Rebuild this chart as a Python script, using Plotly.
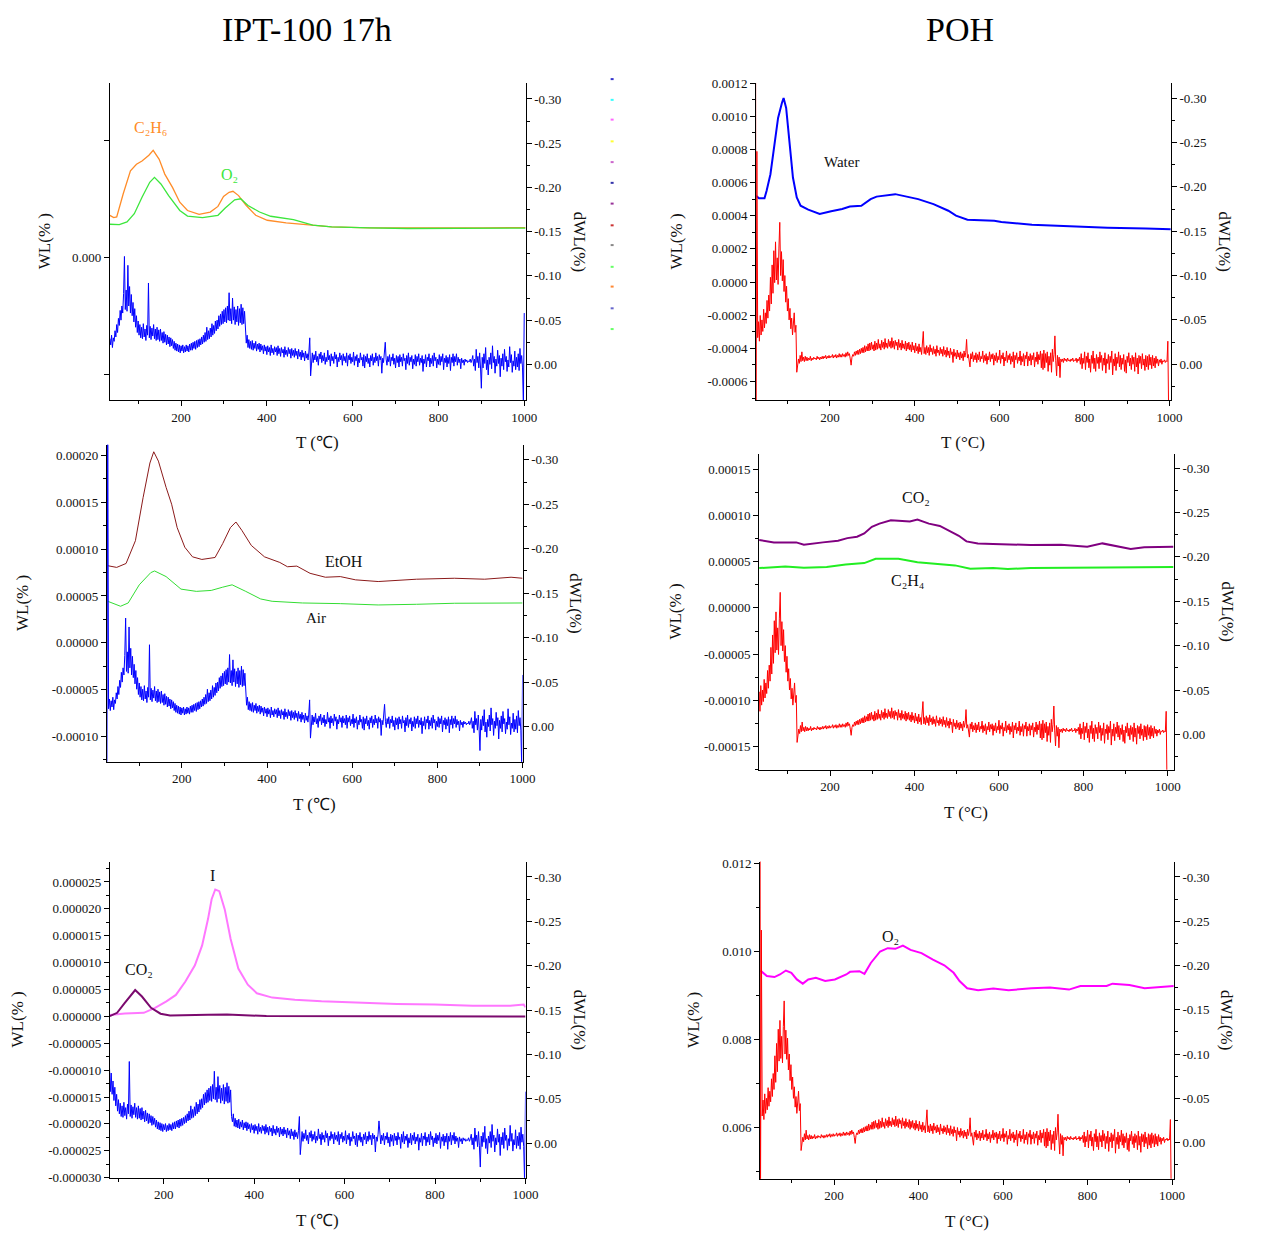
import plotly.graph_objects as go

W, H = 1262, 1243
SERIF = "Liberation Serif, Times New Roman, serif"

# ---------------- DATA ----------------
T_IPT = list(range(24, 1001, 2))
DTG_IPT = [
    # 24
    0.050, -0.340, -0.020, -0.031, -0.018, -0.029, -0.022, -0.033, -0.019, -0.030,
    -0.026, -0.038, -0.031, -0.045, -0.036, -0.052, -0.044, -0.061, -0.050, -0.066,
    # 64
    -0.058, -0.080, -0.122, -0.062, -0.084, -0.060, -0.112, -0.066, -0.088, -0.058,
    -0.079, -0.055, -0.070, -0.048, -0.063, -0.042, -0.055, -0.036, -0.049, -0.033,
    # 104
    -0.045, -0.030, -0.042, -0.029, -0.046, -0.031, -0.040, -0.027, -0.044, -0.033,
    -0.092, -0.030, -0.043, -0.028, -0.041, -0.032, -0.045, -0.029, -0.040, -0.027,
    # 144
    -0.042, -0.028, -0.039, -0.026, -0.040, -0.027, -0.036, -0.024, -0.037, -0.025,
    -0.034, -0.022, -0.033, -0.023, -0.031, -0.020, -0.030, -0.021, -0.028, -0.018,
    # 184
    -0.026, -0.016, -0.024, -0.015, -0.023, -0.014, -0.022, -0.013, -0.021, -0.015,
    -0.022, -0.013, -0.020, -0.014, -0.022, -0.015, -0.021, -0.014, -0.023, -0.016,
    # 224
    -0.024, -0.016, -0.025, -0.018, -0.026, -0.017, -0.027, -0.019, -0.028, -0.020,
    -0.029, -0.022, -0.031, -0.023, -0.033, -0.025, -0.036, -0.026, -0.042, -0.028,
    # 264
    -0.038, -0.029, -0.041, -0.031, -0.046, -0.033, -0.044, -0.035, -0.049, -0.038,
    -0.050, -0.040, -0.055, -0.043, -0.057, -0.045, -0.060, -0.046, -0.062, -0.048,
    # 304
    -0.064, -0.047, -0.066, -0.050, -0.081, -0.049, -0.063, -0.046, -0.075, -0.050,
    -0.065, -0.045, -0.062, -0.048, -0.066, -0.044, -0.063, -0.047, -0.068, -0.045,
    # 344
    -0.064, -0.046, -0.060, -0.030, -0.024, -0.033, -0.019, -0.028, -0.018, -0.026,
    -0.017, -0.027, -0.016, -0.024, -0.018, -0.026, -0.015, -0.023, -0.017, -0.024,
    # 384
    -0.014, -0.023, -0.016, -0.021, -0.012, -0.022, -0.015, -0.020, -0.011, -0.021,
    -0.014, -0.019, -0.010, -0.022, -0.013, -0.018, -0.011, -0.020, -0.014, -0.019,
    # 424
    -0.010, -0.021, -0.012, -0.018, -0.009, -0.019, -0.013, -0.017, -0.008, -0.020,
    -0.011, -0.016, -0.009, -0.019, -0.012, -0.017, -0.007, -0.018, -0.010, -0.016,
    # 464
    -0.008, -0.018, -0.010, -0.015, -0.006, -0.017, -0.009, -0.014, -0.005, -0.016,
    -0.008, -0.013, -0.004, -0.015, -0.007, -0.012, -0.005, -0.014, -0.030, 0.013,
    # 504
    -0.004, -0.013, -0.002, -0.011, -0.005, -0.015, -0.003, -0.009, 0.001, -0.012,
    -0.006, -0.014, -0.002, -0.010, -0.004, -0.013, 0.000, -0.008, -0.003, -0.016,
    # 544
    -0.005, -0.010, 0.002, -0.012, -0.004, -0.009, -0.001, -0.014, -0.006, -0.011,
    0.003, -0.008, -0.003, -0.013, -0.005, -0.010, 0.001, -0.012, -0.004, -0.009,
    # 584
    -0.002, -0.013, 0.002, -0.010, -0.005, -0.012, -0.001, -0.008, -0.003, -0.014,
    0.001, -0.009, -0.004, -0.011, 0.003, -0.007, -0.002, -0.013, -0.005, -0.008,
    # 624
    0.002, -0.011, 0.004, -0.009, -0.003, -0.012, -0.001, -0.007, 0.003, -0.010,
    -0.004, -0.012, 0.001, -0.008, -0.002, -0.013, -0.004, -0.009, 0.002, -0.011,
    # 664
    -0.005, -0.009, 0.010, -0.007, -0.002, -0.010, -0.025, -0.006, 0.001, -0.009,
    -0.003, -0.011, 0.002, -0.008, -0.004, -0.012, 0.000, -0.007, 0.004, -0.010,
    # 704
    -0.002, -0.009, 0.003, -0.011, -0.003, -0.008, 0.002, -0.012, -0.004, -0.007,
    0.006, -0.010, -0.001, -0.013, 0.001, -0.008, -0.003, -0.010, 0.005, -0.006,
    # 744
    0.000, -0.011, 0.002, -0.009, -0.003, -0.012, 0.001, -0.007, -0.002, -0.010,
    0.008, -0.006, -0.001, -0.011, 0.003, -0.008, -0.004, -0.012, 0.003, -0.007,
    # 784
    -0.001, -0.010, 0.002, -0.013, -0.004, -0.008, 0.004, -0.006, 0.000, -0.011,
    0.001, -0.009, -0.003, -0.012, 0.006, -0.007, -0.002, -0.010, 0.003, -0.008,
    # 824
    -0.001, -0.011, 0.007, -0.008, -0.002, -0.012, 0.002, -0.009, -0.003, -0.012,
    0.001, -0.008, -0.002, -0.006, 0.005, -0.007, -0.002, -0.005, 0.001, -0.006,
    # 864
    -0.003, -0.005, -0.002, -0.004, -0.003, -0.006, -0.002, -0.005, -0.010, 0.002,
    -0.006, 0.007, -0.017, -0.002, -0.009, 0.004, -0.013, 0.003, 0.027, -0.008,
    # 904
    0.004, -0.012, -0.001, -0.019, 0.006, -0.005, 0.012, -0.008, 0.000, -0.013,
    0.005, -0.021, -0.002, -0.009, 0.010, -0.006, 0.002, -0.016, -0.001, -0.010,
    # 944
    0.014, -0.007, 0.002, -0.012, 0.006, -0.017, -0.003, -0.009, 0.008, -0.005,
    0.003, -0.020, -0.002, -0.011, 0.009, -0.004, 0.002, -0.015, 0.006, -0.008,
    # 984
    0.003, -0.012, 0.007, -0.018, -0.001, -0.010, 0.004, 0.045, -0.058,
]

T_POH = [25] + list(range(26, 999, 2))
DTG_POH = [
    -0.400,
    # 26
    0.060, -0.240, -0.030, -0.048, -0.026, -0.055, -0.033, -0.050, -0.037, -0.062,
    -0.041, -0.058, -0.046, -0.072, -0.052, -0.078, -0.060, -0.098, -0.068, -0.112,
    # 66
    -0.080, -0.128, -0.092, -0.138, -0.095, -0.120, -0.090, -0.131, -0.160, -0.100,
    -0.127, -0.094, -0.118, -0.082, -0.100, -0.070, -0.088, -0.060, -0.074, -0.050,
    # 106
    -0.063, -0.040, -0.052, -0.033, -0.047, -0.058, -0.036, -0.044, 0.009, -0.002,
    -0.006, -0.001, -0.010, -0.003, -0.014, -0.004, -0.008, -0.003, -0.009, -0.004,
    # 146
    -0.008, -0.004, -0.007, -0.005, -0.009, -0.004, -0.007, -0.005, -0.008, -0.006,
    -0.007, -0.005, -0.009, -0.006, -0.008, -0.005, -0.008, -0.006, -0.009, -0.006,
    # 186
    -0.009, -0.007, -0.010, -0.006, -0.009, -0.007, -0.010, -0.007, -0.009, -0.008,
    -0.011, -0.007, -0.010, -0.008, -0.011, -0.007, -0.010, -0.008, -0.012, -0.008,
    # 226
    -0.011, -0.008, -0.012, -0.009, -0.011, -0.008, -0.013, -0.009, -0.014, -0.010,
    -0.012, -0.006, 0.001, -0.008, -0.011, -0.009, -0.014, -0.010, -0.015, -0.011,
    # 266
    -0.016, -0.011, -0.017, -0.012, -0.018, -0.013, -0.019, -0.013, -0.021, -0.014,
    -0.020, -0.015, -0.023, -0.015, -0.024, -0.016, -0.025, -0.017, -0.022, -0.015,
    # 306
    -0.026, -0.016, -0.024, -0.017, -0.028, -0.018, -0.023, -0.016, -0.027, -0.019,
    -0.025, -0.017, -0.029, -0.019, -0.024, -0.018, -0.028, -0.020, -0.026, -0.018,
    # 346
    -0.030, -0.019, -0.026, -0.017, -0.027, -0.021, -0.025, -0.016, -0.028, -0.019,
    -0.024, -0.016, -0.027, -0.018, -0.023, -0.017, -0.026, -0.015, -0.024, -0.017,
    # 386
    -0.025, -0.016, -0.022, -0.014, -0.025, -0.016, -0.021, -0.013, -0.024, -0.015,
    -0.020, -0.012, -0.023, -0.014, -0.019, -0.011, -0.024, -0.037, -0.012, -0.019,
    # 426
    -0.011, -0.021, -0.013, -0.019, -0.010, -0.022, -0.014, -0.018, -0.011, -0.020,
    -0.012, -0.017, -0.009, -0.021, -0.013, -0.016, -0.010, -0.019, -0.012, -0.017,
    # 466
    -0.009, -0.020, -0.011, -0.016, -0.008, -0.019, -0.010, -0.015, -0.007, -0.018,
    -0.011, -0.014, -0.002, -0.017, -0.009, -0.013, -0.006, -0.016, -0.008, -0.013,
    # 506
    -0.005, -0.014, -0.007, -0.012, -0.004, -0.015, -0.008, -0.013, -0.028, -0.007,
    -0.011, -0.004, 0.003, -0.012, -0.006, -0.014, -0.003, -0.010, -0.005, -0.013,
    # 546
    -0.002, -0.011, -0.005, -0.014, -0.003, -0.009, -0.006, -0.015, -0.002, -0.010,
    -0.004, -0.012, 0.000, -0.009, -0.005, -0.014, -0.003, -0.011, -0.006, -0.012,
    # 586
    0.001, -0.010, -0.004, -0.013, -0.002, -0.009, -0.005, -0.016, -0.001, -0.010,
    -0.006, -0.013, 0.002, -0.008, -0.004, -0.015, -0.002, -0.010, -0.005, -0.012,
    # 626
    0.000, -0.009, -0.003, -0.014, 0.004, -0.010, -0.005, -0.013, -0.001, -0.008,
    -0.004, -0.015, 0.001, -0.009, -0.003, -0.012, 0.002, -0.010, -0.006, -0.014,
    # 666
    0.002, -0.009, -0.004, -0.012, 0.001, -0.010, -0.005, -0.013, 0.003, -0.008,
    -0.003, -0.014, 0.000, -0.011, -0.005, -0.015, 0.004, -0.012, 0.006, -0.016,
    # 706
    0.004, -0.012, -0.002, -0.014, 0.008, -0.009, 0.001, -0.013, 0.009, -0.017,
    -0.003, -0.011, -0.032, -0.004, 0.013, -0.010, 0.002, -0.008, 0.015, -0.006,
    # 746
    -0.003, -0.006, -0.002, -0.007, -0.004, -0.006, -0.003, -0.007, -0.004, -0.005,
    -0.003, -0.006, -0.004, -0.007, -0.003, -0.005, -0.004, -0.007, -0.002, -0.006,
    # 786
    -0.004, -0.008, 0.000, -0.012, 0.005, -0.007, -0.001, -0.014, 0.006, -0.009,
    -0.002, -0.013, 0.004, -0.006, 0.009, -0.010, -0.001, -0.015, 0.005, -0.007,
    # 826
    0.008, -0.011, -0.001, -0.008, 0.005, -0.014, -0.002, -0.010, 0.007, -0.007,
    0.001, -0.013, 0.010, -0.006, -0.001, -0.011, 0.006, -0.009, -0.002, -0.015,
    # 866
    0.012, -0.006, 0.002, -0.012, 0.007, -0.008, -0.001, -0.014, 0.003, -0.010,
    0.006, -0.007, 0.000, -0.011, 0.008, -0.005, 0.010, -0.009, -0.002, -0.013,
    # 906
    0.002, -0.007, 0.006, -0.010, 0.000, -0.008, 0.008, -0.013, 0.003, -0.007,
    0.011, -0.010, -0.001, -0.009, 0.005, -0.012, 0.001, -0.006, 0.007, -0.010,
    # 946
    0.003, -0.009, 0.006, -0.011, 0.001, -0.008, 0.005, -0.010, 0.002, -0.007,
    0.004, -0.009, -0.001, -0.006, 0.002, -0.005, -0.002, -0.006, 0.000, -0.004,
    # 986
    -0.003, -0.005, -0.002, -0.004, -0.003, -0.026, 0.060,
]

C2H6_T = [34, 43, 50, 65, 82, 96, 109, 125, 135, 149, 162, 180, 197, 215, 242, 268, 286, 299,
          312, 321, 334, 352, 374, 401, 445, 498, 551, 639, 728, 816, 904, 1003]
C2H6_V = [0.000359, 0.000339, 0.000345, 0.000541, 0.000738, 0.000794, 0.000822, 0.000870,
          0.000912, 0.000836, 0.000710, 0.000597, 0.000471, 0.000400, 0.000367, 0.000387,
          0.000435, 0.000519, 0.000555, 0.000564, 0.000527, 0.000443, 0.000359, 0.000317,
          0.000295, 0.000275, 0.000261, 0.000252, 0.000250, 0.000250, 0.000252, 0.000255]
O2A_T = [34, 56, 74, 91, 109, 127, 138, 153, 171, 197, 215, 250, 286, 303, 325, 339, 356, 383,
         409, 462, 507, 551, 639, 728, 1003]
O2A_V = [0.000283, 0.000280, 0.000303, 0.000373, 0.000513, 0.000640, 0.000682, 0.000626,
         0.000527, 0.000400, 0.000353, 0.000339, 0.000359, 0.000421, 0.000491, 0.000500,
         0.000443, 0.000387, 0.000351, 0.000323, 0.000275, 0.000261, 0.000252, 0.000247, 0.000250]

WATER_T = [26, 33, 46, 51, 60, 69, 78, 87, 91, 97, 104, 113, 122, 131, 149, 176, 203, 229, 247,
           274, 296, 310, 354, 372, 408, 444, 479, 497, 524, 587, 604, 676, 765, 854, 944, 1003]
WATER_V = [0.000521, 0.000505, 0.000505, 0.000550, 0.000650, 0.000810, 0.000990, 0.001080,
           0.001110, 0.001050, 0.000850, 0.000630, 0.000510, 0.000460, 0.000437, 0.000410,
           0.000427, 0.000440, 0.000455, 0.000460, 0.000500, 0.000515, 0.000530, 0.000520,
           0.000500, 0.000470, 0.000430, 0.000400, 0.000376, 0.000370, 0.000362, 0.000346,
           0.000336, 0.000328, 0.000322, 0.000318]

ETOH_T = [26, 47, 69, 91, 109, 125, 134, 145, 163, 176, 189, 207, 225, 247, 278, 296, 314, 327,
          341, 363, 394, 430, 448, 470, 501, 537, 572, 608, 661, 751, 840, 911, 973, 1000]
ETOH_V = [0.0000823, 0.0000805, 0.0000847, 0.000109, 0.000155, 0.000192, 0.000204, 0.000194,
          0.000166, 0.000148, 0.000123, 0.000102, 0.0000918, 0.0000890, 0.0000911, 0.000106,
          0.000123, 0.000129, 0.000120, 0.000104, 0.0000918, 0.0000858, 0.0000812, 0.0000819,
          0.0000742, 0.0000700, 0.0000707, 0.0000672, 0.0000654, 0.0000679, 0.0000689,
          0.0000679, 0.0000700, 0.0000689]
AIR_T = [26, 56, 74, 100, 127, 136, 163, 198, 234, 269, 296, 318, 350, 385, 412, 483, 572, 661,
         751, 840, 1000]
AIR_V = [0.0000443, 0.0000390, 0.0000425, 0.0000619, 0.0000749, 0.0000767, 0.0000707,
         0.0000573, 0.0000549, 0.0000559, 0.0000594, 0.0000619, 0.0000549, 0.0000468,
         0.0000443, 0.0000425, 0.0000418, 0.0000404, 0.0000411, 0.0000422, 0.0000425]

CO2B_T = [32, 67, 120, 138, 183, 219, 241, 264, 281, 299, 317, 344, 371, 389, 407, 434, 460,
          487, 505, 523, 550, 586, 630, 675, 747, 809, 845, 890, 912, 944, 1013]
CO2B_V = [0.0000734, 0.0000709, 0.0000709, 0.0000684, 0.0000709, 0.0000727, 0.0000755,
          0.0000770, 0.0000805, 0.0000877, 0.0000912, 0.0000948, 0.0000941, 0.0000934,
          0.0000955, 0.0000912, 0.0000887, 0.0000827, 0.0000780, 0.0000720, 0.0000698,
          0.0000691, 0.0000684, 0.0000681, 0.0000684, 0.0000663, 0.0000698, 0.0000663,
          0.0000638, 0.0000656, 0.0000663]
C2H4_T = [32, 94, 138, 192, 237, 281, 308, 362, 407, 460, 496, 532, 586, 621, 675, 854, 1013]
C2H4_V = [0.0000431, 0.0000449, 0.0000435, 0.0000442, 0.0000470, 0.0000485, 0.0000531,
          0.0000531, 0.0000495, 0.0000478, 0.0000460, 0.0000424, 0.0000431, 0.0000421,
          0.0000431, 0.0000438, 0.0000442]

I_T = [81, 114, 156, 181, 206, 227, 248, 269, 285, 298, 306, 314, 323, 335, 348, 365, 386, 406,
       440, 490, 549, 632, 716, 799, 883, 966, 996, 1000]
I_V = [0.00000024, 0.00000055, 0.00000067, 0.0000016, 0.0000028, 0.0000040, 0.0000065,
       0.0000095, 0.0000132, 0.0000181, 0.0000218, 0.0000236, 0.0000233, 0.0000199, 0.0000144,
       0.0000089, 0.0000059, 0.0000043, 0.0000035, 0.0000031, 0.0000028, 0.0000025, 0.0000023,
       0.0000022, 0.0000020, 0.0000020, 0.0000022, 0.0000017]
CO2A_T = [81, 97, 114, 131, 137, 152, 172, 193, 214, 298, 340, 427, 1000]
CO2A_V = [0.00000006, 0.00000067, 0.0000025, 0.0000043, 0.0000049, 0.0000037, 0.0000016,
          0.0000005, 0.00000018, 0.0000003, 0.00000037, 0.00000006, 0.0]

O2B_T = [26, 41, 59, 72, 86, 99, 112, 126, 139, 157, 179, 202, 229, 238, 260, 272, 287, 309, 327,
         345, 363, 381, 407, 434, 461, 483, 497, 515, 541, 577, 613, 667, 711, 756, 783, 845,
         859, 899, 935, 1004]
O2B_V = [0.009568, 0.009441, 0.009419, 0.009478, 0.009568, 0.009516, 0.009366, 0.009270,
         0.009366, 0.009404, 0.009329, 0.009366, 0.009478, 0.009538, 0.009553, 0.009493,
         0.009739, 0.010000, 0.010075, 0.010060, 0.010134, 0.010037, 0.009963, 0.009814,
         0.009687, 0.009516, 0.009329, 0.009165, 0.009120, 0.009158, 0.009120, 0.009165,
         0.009180, 0.009135, 0.009217, 0.009217, 0.009270, 0.009240, 0.009165, 0.009217]

X_TICKS = [200, 400, 600, 800, 1000]
X_MINOR = [100, 300, 500, 700, 900]
R_TICKS = [-0.30, -0.25, -0.20, -0.15, -0.10, -0.05, 0.00]
R_TEXT = ["-0.30", "-0.25", "-0.20", "-0.15", "-0.10", "-0.05", "0.00"]
R_MINOR = [-0.275, -0.225, -0.175, -0.125, -0.075, -0.025, 0.025]

L1_TICKS = [0.0]
L1_TEXT = ["0.000"]
L1_MINOR = [-0.001, 0.001]
L2_TICKS = [-0.0006, -0.0004, -0.0002, 0.0, 0.0002, 0.0004, 0.0006, 0.0008, 0.0010, 0.0012]
L2_TEXT = ["-0.0006", "-0.0004", "-0.0002", "0.0000", "0.0002", "0.0004", "0.0006", "0.0008",
           "0.0010", "0.0012"]
L2_MINOR = [-0.0007, -0.0005, -0.0003, -0.0001, 0.0001, 0.0003, 0.0005, 0.0007, 0.0009, 0.0011]
L3_TICKS = [-0.00010, -0.00005, 0.0, 0.00005, 0.00010, 0.00015, 0.00020]
L3_TEXT = ["-0.00010", "-0.00005", "0.00000", "0.00005", "0.00010", "0.00015", "0.00020"]
L3_MINOR = [-0.000125, -0.000075, -0.000025, 0.000025, 0.000075, 0.000125, 0.000175]
L4_TICKS = [-0.00015, -0.00010, -0.00005, 0.0, 0.00005, 0.00010, 0.00015]
L4_TEXT = ["-0.00015", "-0.00010", "-0.00005", "0.00000", "0.00005", "0.00010", "0.00015"]
L4_MINOR = [-0.000175, -0.000125, -0.000075, -0.000025, 0.000025, 0.000075, 0.000125]
L5_TICKS = [-0.000030, -0.000025, -0.000020, -0.000015, -0.000010, -0.000005, 0.0,
            0.000005, 0.000010, 0.000015, 0.000020, 0.000025]
L5_TEXT = ["-0.000030", "-0.000025", "-0.000020", "-0.000015", "-0.000010", "-0.000005",
           "0.000000", "0.000005", "0.000010", "0.000015", "0.000020", "0.000025"]
L5_MINOR = [-0.0000275, -0.0000225, -0.0000175, -0.0000125, -0.0000075, -0.0000025,
            0.0000025, 0.0000075, 0.0000125, 0.0000175, 0.0000225, 0.0000275]
L6_TICKS = [0.006, 0.008, 0.010, 0.012]
L6_TEXT = ["0.006", "0.008", "0.010", "0.012"]
L6_MINOR = [0.005, 0.007, 0.009, 0.011]

# ---------------- FIGURE ----------------
def X(px):
    return px / W


def Y(py):
    return 1 - py / H


TICKFONT = dict(family=SERIF, size=13, color="#111")

panels = [
    dict(box=(111, 531, 77, 398), xr=[34, 1003], lr=[-0.001215, 0.001485], rr=[0.0405, -0.318],
         lt=L1_TICKS, ltx=L1_TEXT, lm=L1_MINOR, lmlen=5, tunit="T (℃)", wlx=45),
    dict(box=(764, 1183, 77, 398), xr=[26.3, 1003], lr=[-0.000713, 0.0012], rr=[0.0405, -0.317],
         lt=L2_TICKS, ltx=L2_TEXT, lm=L2_MINOR, lmlen=3, tunit="T (°C)", wlx=684),
    dict(box=(108, 528, 443, 764), xr=[24, 1000], lr=[-0.0001271, 0.0002116], rr=[0.0396, -0.317],
         lt=L3_TICKS, ltx=L3_TEXT, lm=L3_MINOR, lmlen=3, tunit="T (℃)", wlx=22),
    dict(box=(767, 1186, 452, 772), xr=[32, 1014], lr=[-0.000175, 0.000167], rr=[0.0397, -0.3163],
         lt=L4_TICKS, ltx=L4_TEXT, lm=L4_MINOR, lmlen=3, tunit="T (°C)", wlx=683),
    dict(box=(111, 531, 865, 1185), xr=[81, 1000], lr=[-0.00003, 0.0000288], rr=[0.039, -0.3174],
         lt=L5_TICKS, ltx=L5_TEXT, lm=L5_MINOR, lmlen=3, tunit="T (℃)", wlx=18),
    dict(box=(768, 1186, 865, 1186), xr=[25, 1004], lr=[0.004845, 0.01204], rr=[0.0408, -0.3174],
         lt=L6_TICKS, ltx=L6_TEXT, lm=L6_MINOR, lmlen=3, tunit="T (°C)", wlx=700),
]

fig = go.Figure()
layout = {}
annotations = []

axis_common = dict(showline=True, linecolor="black", linewidth=1, ticks="outside",
                   ticklen=5, tickwidth=1, tickcolor="black", showgrid=False, zeroline=False,
                   tickfont=TICKFONT)

for i, p in enumerate(panels, start=1):
    x0, x1, yt, yb = p["box"]
    xid = "x" if i == 1 else f"x{i}"
    ly = 2 * i - 1
    ry = 2 * i
    lid = "y" if ly == 1 else f"y{ly}"
    rid = f"y{ry}"
    layout["xaxis" if i == 1 else f"xaxis{i}"] = dict(
        domain=[X(x0), X(x1)], range=p["xr"], anchor=lid,
        tickmode="array", tickvals=X_TICKS, ticktext=[str(v) for v in X_TICKS],
        minor=dict(tickmode="array", tickvals=X_MINOR, ticks="outside", ticklen=3,
                   tickcolor="black"),
        **axis_common)
    layout["yaxis" if ly == 1 else f"yaxis{ly}"] = dict(
        domain=[Y(yb), Y(yt)], range=p["lr"], anchor=xid,
        tickmode="array", tickvals=p["lt"], ticktext=p["ltx"],
        minor=dict(tickmode="array", tickvals=p["lm"], ticks="outside", ticklen=p["lmlen"],
                   tickcolor="black"),
        **axis_common)
    layout[f"yaxis{ry}"] = dict(
        range=p["rr"], anchor=xid, overlaying=lid, side="right",
        tickmode="array", tickvals=R_TICKS, ticktext=R_TEXT,
        minor=dict(tickmode="array", tickvals=R_MINOR, ticks="outside", ticklen=3,
                   tickcolor="black"),
        **axis_common)
    p["ids"] = (xid, lid, rid)
    cx = (x0 + x1) / 2
    cy = (yt + yb) / 2
    annotations.append(dict(text=p["tunit"], x=X(cx), y=Y(yb + 43), xref="paper", yref="paper",
                            showarrow=False, font=dict(family=SERIF, size=17, color="#111"),
                            xanchor="center", yanchor="middle"))
    annotations.append(dict(text="WL(% )", x=X(p["wlx"]), y=Y(cy), xref="paper", yref="paper",
                            showarrow=False, textangle=-90,
                            font=dict(family=SERIF, size=17, color="#111"),
                            xanchor="center", yanchor="middle"))
    annotations.append(dict(text="dWL(%)", x=X(x1 + 54), y=Y(cy), xref="paper", yref="paper",
                            showarrow=False, textangle=90,
                            font=dict(family=SERIF, size=17, color="#111"),
                            xanchor="center", yanchor="middle"))


def add(xs, ys, ids, axis, color, width):
    xid, lid, rid = ids
    fig.add_trace(go.Scatter(x=xs, y=ys, mode="lines", xaxis=xid,
                             yaxis=lid if axis == "L" else rid,
                             line=dict(color=color, width=width), showlegend=False,
                             hoverinfo="skip"))


ids = [p["ids"] for p in panels]
add(C2H6_T, C2H6_V, ids[0], "L", "#FF8C28", 1.3)
add(O2A_T, O2A_V, ids[0], "L", "#3CE63C", 1.3)
add(T_IPT, DTG_IPT, ids[0], "R", "#0000FF", 1)

add(WATER_T, WATER_V, ids[1], "L", "#0000FF", 2)
add(T_POH, DTG_POH, ids[1], "R", "#FF0000", 1)

add(ETOH_T, ETOH_V, ids[2], "L", "#8B1A1A", 1)
add(AIR_T, AIR_V, ids[2], "L", "#33DD33", 1)
add(T_IPT, DTG_IPT, ids[2], "R", "#0000FF", 1)

add(CO2B_T, CO2B_V, ids[3], "L", "#800080", 2)
add(C2H4_T, C2H4_V, ids[3], "L", "#22EE22", 2)
add(T_POH, DTG_POH, ids[3], "R", "#FF0000", 1)

add(I_T, I_V, ids[4], "L", "#FF77FF", 2)
add(CO2A_T, CO2A_V, ids[4], "L", "#7B0A6E", 2)
add(T_IPT, DTG_IPT, ids[4], "R", "#0000FF", 1)

add(O2B_T, O2B_V, ids[5], "L", "#FF00FF", 2)
add(T_POH, DTG_POH, ids[5], "R", "#FF0000", 1)


def lab(text, px, py, color, size=16):
    annotations.append(dict(text=text, x=X(px), y=Y(py), xref="paper", yref="paper",
                            showarrow=False, font=dict(family=SERIF, size=size, color=color),
                            xanchor="center", yanchor="middle"))


lab("C₂H₆", 152, 122, "#FF8C28")
lab("O₂", 232, 170, "#3CE63C")
lab("Water", 850, 157, "#111", 15)
lab("EtOH", 348, 561, "#111")
lab("Air", 319, 618, "#111", 15)
lab("CO₂", 926, 496, "#111")
lab("C₂H₄", 917, 580, "#111")
lab("I", 215, 879, "#111")
lab("CO₂", 140, 974, "#111")
lab("O₂", 900, 941, "#111")

annotations.append(dict(text="IPT-100 17h", x=X(310), y=Y(23), xref="paper", yref="paper",
                        showarrow=False, font=dict(family=SERIF, size=34, color="#000"),
                        xanchor="center", yanchor="middle"))
annotations.append(dict(text="POH", x=X(970), y=Y(23), xref="paper", yref="paper",
                        showarrow=False, font=dict(family=SERIF, size=34, color="#000"),
                        xanchor="center", yanchor="middle"))

dash_y = [73, 94, 114, 136, 157, 178, 199, 221, 241, 263, 283, 305, 326]
dash_c = ["#3333CC", "#33FFFF", "#FF66FF", "#FFFF33", "#CC66CC", "#3333AA", "#993399",
          "#CC3333", "#888888", "#66FF66", "#FF8833", "#6666CC", "#66FF66"]
shapes = [dict(type="line", xref="paper", yref="paper", x0=X(617), x1=X(620), y0=Y(yy), y1=Y(yy),
               line=dict(color=c, width=2)) for yy, c in zip(dash_y, dash_c)]

fig.update_layout(**layout)
fig.update_layout(width=W, height=H, autosize=False, margin=dict(l=0, r=0, t=0, b=0),
                  paper_bgcolor="white", plot_bgcolor="white", showlegend=False,
                  annotations=annotations, shapes=shapes,
                  font=dict(family=SERIF, color="#111"))

fig.write_html("out.html", config={"displayModeBar": False},
               post_script="document.body.style.margin='0';document.body.style.overflow='hidden';")
